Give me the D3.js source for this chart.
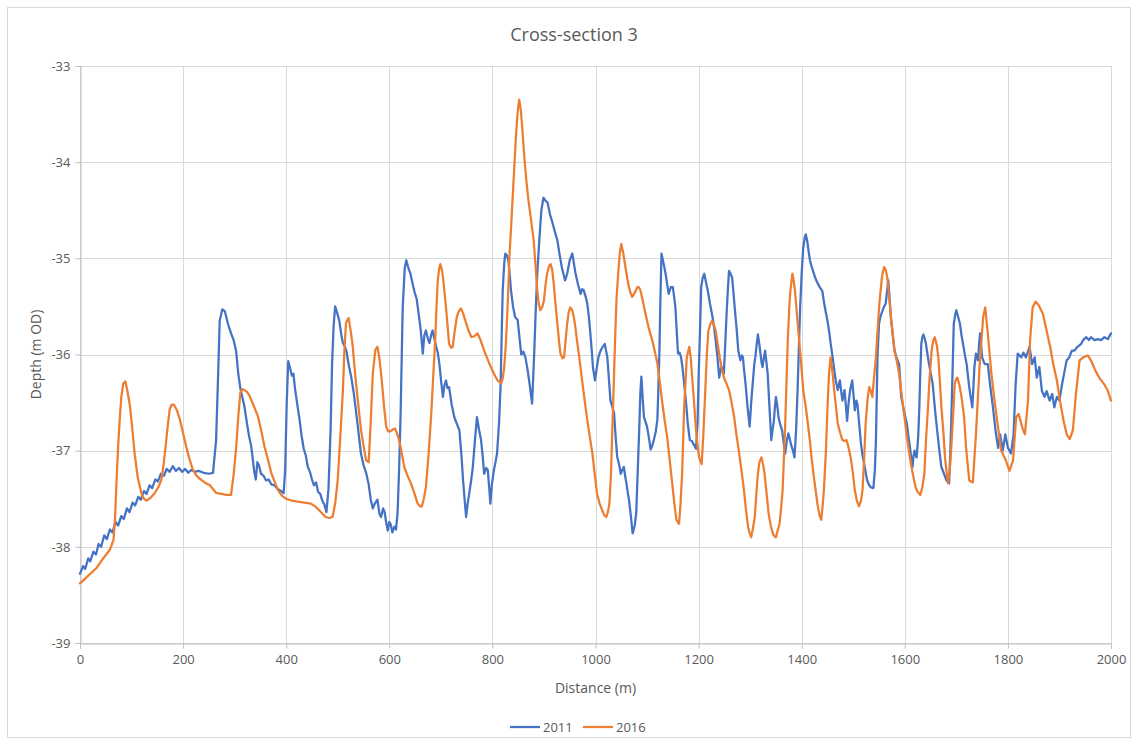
<!DOCTYPE html>
<html><head><meta charset="utf-8">
<script src="https://cdn.jsdelivr.net/npm/d3@7"></script>
<style>body{margin:0;background:#fff;} text{font-family:"Open Sans",sans-serif;}</style>
</head><body>
<svg id="chart" width="1136" height="742"></svg>
<script>
const chartTitle = "Cross-section 3";
const xTitle = "Distance (m)";
const yTitle = "Depth (m OD)";
const seriesNames = ["2011", "2016"];
const seriesColors = ["#4472C4", "#ED7D31"];
const xTicks = [0, 200, 400, 600, 800, 1000, 1200, 1400, 1600, 1800, 2000];
const yTicks = [-39, -38, -37, -36, -35, -34, -33];

const distance2011 = [0,6,10,16,20,26,31,36,41,47,52,58,63,69,74,80,85,91,96,102,107,113,118,124,129,135,140,146,151,157,163,168,174,180,186,192,198,204,210,216,222,230,240,250,258,264,268,271,276,281,287,293,298,303,307,311,319,324,328,332,335,338,341,344,347,351,356,361,366,371,377,384,390,395,398,401,404,408,411,414,417,421,426,430,434,438,442,446,450,454,458,462,466,470,474,478,482,486,489,492,495,499,503,507,510,514,517,521,526,531,535,540,545,550,555,560,564,568,572,577,581,584,588,591,594,597,600,603,606,610,613,616,619,622,626,630,633,637,641,645,649,653,657,661,665,668,671,675,678,681,684,688,691,694,697,701,704,707,710,713,716,721,726,731,736,740,743,746,749,752,755,759,762,766,770,774,778,781,784,788,791,794,796,799,803,806,809,813,816,818,820,823,825,828,831,834,836,840,844,849,853,856,860,864,868,872,877,881,884,887,891,895,899,903,907,912,916,921,926,930,935,941,945,950,955,958,961,966,971,974,977,981,984,987,990,993,995,999,1003,1006,1010,1014,1018,1023,1026,1029,1033,1036,1039,1042,1046,1049,1052,1055,1058,1060,1063,1065,1069,1072,1076,1079,1082,1085,1087,1089,1092,1094,1097,1100,1104,1107,1110,1113,1117,1120,1122,1124,1126,1128,1132,1136,1139,1142,1146,1150,1153,1155,1158,1160,1163,1166,1169,1172,1176,1179,1183,1187,1190,1193,1195,1198,1200,1203,1205,1208,1211,1214,1218,1222,1227,1230,1233,1237,1240,1243,1245,1249,1252,1254,1257,1259,1262,1265,1268,1270,1274,1277,1281,1284,1286,1288,1291,1295,1299,1302,1305,1308,1310,1313,1315,1318,1320,1322,1324,1327,1329,1332,1334,1337,1341,1343,1346,1348,1350,1353,1355,1358,1362,1365,1368,1371,1374,1377,1379,1383,1386,1389,1392,1395,1397,1400,1403,1406,1408,1411,1414,1416,1419,1422,1426,1430,1435,1440,1443,1446,1450,1453,1456,1459,1463,1466,1470,1474,1477,1479,1481,1483,1486,1488,1491,1494,1498,1501,1503,1506,1508,1511,1515,1518,1521,1524,1527,1531,1534,1539,1542,1544,1547,1550,1553,1557,1560,1563,1566,1568,1571,1573,1577,1580,1585,1589,1593,1597,1601,1604,1607,1610,1613,1615,1617,1619,1621,1623,1626,1628,1630,1632,1634,1636,1639,1641,1644,1647,1651,1654,1657,1660,1664,1667,1671,1676,1681,1686,1688,1690,1693,1695,1698,1700,1703,1707,1710,1713,1717,1720,1722,1725,1728,1731,1733,1735,1738,1742,1744,1746,1750,1755,1761,1766,1771,1776,1781,1785,1790,1795,1800,1806,1811,1815,1819,1826,1830,1835,1842,1847,1852,1856,1861,1866,1871,1875,1881,1886,1890,1895,1900,1905,1910,1914,1919,1924,1929,1935,1942,1946,1952,1957,1961,1968,1974,1981,1987,1994,2000];
const depth2011 = [-38.28,-38.20,-38.23,-38.12,-38.15,-38.05,-38.08,-37.97,-38.00,-37.88,-37.92,-37.82,-37.85,-37.74,-37.78,-37.68,-37.71,-37.60,-37.64,-37.54,-37.57,-37.48,-37.51,-37.42,-37.45,-37.36,-37.39,-37.30,-37.32,-37.24,-37.26,-37.19,-37.22,-37.16,-37.21,-37.18,-37.22,-37.19,-37.23,-37.20,-37.22,-37.21,-37.23,-37.24,-37.23,-36.89,-36.20,-35.65,-35.53,-35.55,-35.68,-35.78,-35.85,-35.97,-36.20,-36.35,-36.54,-36.72,-36.85,-36.95,-37.08,-37.22,-37.30,-37.12,-37.15,-37.24,-37.26,-37.31,-37.30,-37.35,-37.36,-37.40,-37.42,-37.44,-37.20,-36.50,-36.07,-36.15,-36.22,-36.20,-36.35,-36.50,-36.68,-36.85,-36.98,-37.05,-37.17,-37.22,-37.30,-37.36,-37.33,-37.43,-37.45,-37.52,-37.56,-37.64,-37.40,-36.80,-36.10,-35.70,-35.50,-35.57,-35.65,-35.80,-35.88,-35.92,-35.97,-36.10,-36.23,-36.40,-36.57,-36.80,-37.03,-37.15,-37.23,-37.35,-37.51,-37.60,-37.55,-37.51,-37.66,-37.69,-37.60,-37.64,-37.75,-37.83,-37.74,-37.77,-37.85,-37.79,-37.82,-37.65,-37.20,-36.60,-35.51,-35.10,-35.02,-35.10,-35.16,-35.26,-35.35,-35.42,-35.58,-35.75,-35.99,-35.80,-35.75,-35.84,-35.88,-35.80,-35.75,-35.85,-35.92,-35.98,-36.09,-36.30,-36.44,-36.32,-36.27,-36.35,-36.34,-36.52,-36.65,-36.72,-36.79,-37.05,-37.30,-37.50,-37.69,-37.55,-37.45,-37.30,-37.17,-36.90,-36.65,-36.78,-36.89,-37.05,-37.24,-37.18,-37.20,-37.40,-37.55,-37.35,-37.20,-37.12,-37.03,-36.70,-36.30,-35.80,-35.33,-35.05,-34.95,-34.97,-35.02,-35.20,-35.33,-35.50,-35.61,-35.64,-35.85,-36.00,-35.97,-36.03,-36.15,-36.30,-36.51,-36.00,-35.55,-35.16,-34.81,-34.50,-34.37,-34.40,-34.42,-34.55,-34.62,-34.72,-34.81,-34.95,-35.10,-35.23,-35.16,-35.02,-34.95,-35.05,-35.15,-35.27,-35.37,-35.32,-35.33,-35.40,-35.47,-35.60,-35.78,-35.98,-36.13,-36.27,-36.12,-36.02,-35.96,-35.92,-35.89,-36.03,-36.25,-36.48,-36.55,-36.61,-36.85,-37.06,-37.15,-37.24,-37.20,-37.17,-37.28,-37.34,-37.45,-37.51,-37.70,-37.86,-37.78,-37.65,-37.20,-36.75,-36.40,-36.23,-36.50,-36.65,-36.70,-36.75,-36.88,-36.99,-36.95,-36.89,-36.80,-36.68,-36.35,-35.96,-35.40,-34.95,-35.05,-35.16,-35.27,-35.37,-35.30,-35.30,-35.42,-35.51,-35.80,-35.99,-35.98,-36.03,-36.15,-36.30,-36.52,-36.72,-36.89,-36.90,-36.93,-36.96,-36.98,-36.70,-36.24,-35.70,-35.30,-35.20,-35.16,-35.24,-35.34,-35.47,-35.61,-35.72,-35.85,-36.05,-36.24,-36.15,-36.13,-36.20,-35.85,-35.61,-35.30,-35.13,-35.16,-35.20,-35.38,-35.51,-35.75,-35.96,-36.06,-36.01,-36.03,-36.15,-36.30,-36.55,-36.75,-36.50,-36.30,-36.10,-36.03,-35.88,-35.79,-35.90,-35.99,-36.08,-36.13,-36.02,-35.96,-36.10,-36.20,-36.50,-36.89,-36.80,-36.69,-36.55,-36.44,-36.55,-36.65,-36.72,-36.79,-36.92,-37.03,-36.90,-36.82,-36.88,-36.93,-37.00,-37.07,-36.80,-36.37,-35.85,-35.51,-35.15,-34.89,-34.78,-34.75,-34.83,-34.95,-35.02,-35.08,-35.13,-35.20,-35.25,-35.30,-35.34,-35.45,-35.54,-35.65,-35.75,-35.88,-35.99,-36.15,-36.27,-36.37,-36.27,-36.40,-36.48,-36.42,-36.37,-36.55,-36.69,-36.50,-36.37,-36.27,-36.45,-36.58,-36.48,-36.51,-36.69,-36.93,-37.05,-37.13,-37.22,-37.31,-37.36,-37.38,-37.39,-37.20,-36.89,-36.03,-35.68,-35.60,-35.54,-35.50,-35.47,-35.32,-35.23,-35.45,-35.61,-35.82,-35.96,-36.05,-36.10,-36.44,-36.55,-36.65,-36.72,-36.85,-36.96,-37.10,-37.17,-37.05,-37.00,-37.05,-37.07,-36.85,-36.58,-36.20,-35.89,-35.82,-35.79,-35.84,-35.89,-36.00,-36.10,-36.22,-36.30,-36.48,-36.65,-36.85,-37.00,-37.17,-37.24,-37.31,-37.34,-37.05,-36.72,-36.10,-35.68,-35.58,-35.54,-35.60,-35.68,-35.80,-35.89,-36.02,-36.10,-36.20,-36.34,-36.45,-36.55,-36.35,-36.13,-35.99,-36.06,-35.90,-35.78,-36.03,-36.10,-36.10,-36.34,-36.55,-36.79,-36.97,-36.83,-37.00,-36.83,-36.97,-37.03,-36.83,-36.31,-35.99,-36.03,-35.98,-36.03,-35.92,-36.10,-36.03,-36.24,-36.13,-36.38,-36.44,-36.38,-36.48,-36.41,-36.55,-36.44,-36.48,-36.31,-36.17,-36.06,-36.03,-35.96,-35.96,-35.92,-35.89,-35.85,-35.82,-35.85,-35.82,-35.85,-35.84,-35.85,-35.82,-35.84,-35.78];

const distance2016 = [0,10,20,32,45,58,65,68,71,74,77,80,84,88,92,97,101,106,112,119,124,129,137,145,152,158,162,166,170,174,178,182,188,194,200,206,212,219,226,232,242,252,258,264,274,284,293,298,303,307,311,315,319,324,328,336,345,352,358,365,371,378,384,392,400,411,422,435,448,456,464,471,477,484,490,495,500,505,510,513,516,521,525,529,532,536,541,545,550,555,560,564,568,573,577,581,585,590,594,598,602,607,611,615,619,624,629,636,642,649,655,660,663,667,671,676,681,685,689,692,694,697,699,702,704,707,710,713,716,720,723,727,731,735,739,743,747,753,759,765,771,777,784,790,797,803,810,817,820,823,826,828,831,833,837,842,846,849,852,855,858,862,866,870,875,880,884,887,890,893,897,900,903,906,910,913,916,919,922,926,929,932,936,939,942,945,948,951,955,958,961,964,969,974,979,984,989,994,998,1003,1008,1013,1017,1021,1024,1027,1030,1032,1036,1039,1041,1044,1047,1050,1054,1058,1062,1065,1068,1071,1076,1081,1084,1087,1092,1097,1103,1110,1115,1120,1125,1129,1134,1139,1144,1149,1153,1157,1162,1165,1168,1170,1172,1175,1177,1182,1185,1187,1191,1194,1198,1201,1206,1209,1213,1216,1219,1223,1226,1230,1233,1237,1241,1245,1249,1254,1259,1264,1269,1273,1278,1283,1288,1292,1296,1299,1302,1305,1309,1312,1315,1318,1322,1325,1328,1332,1336,1340,1344,1347,1350,1354,1357,1360,1363,1366,1368,1371,1373,1376,1378,1382,1385,1387,1391,1395,1399,1403,1408,1412,1416,1419,1423,1427,1431,1435,1438,1441,1443,1447,1450,1453,1456,1460,1463,1467,1470,1475,1479,1483,1487,1491,1495,1499,1503,1507,1511,1515,1518,1521,1524,1528,1531,1534,1537,1541,1544,1548,1551,1553,1556,1560,1563,1566,1570,1573,1577,1580,1585,1589,1593,1597,1601,1605,1609,1613,1617,1621,1625,1630,1634,1638,1641,1645,1648,1652,1655,1658,1662,1665,1668,1671,1675,1678,1681,1684,1688,1691,1694,1697,1700,1702,1706,1710,1715,1719,1725,1732,1738,1745,1752,1756,1761,1768,1774,1781,1787,1796,1803,1810,1816,1821,1828,1833,1839,1843,1848,1854,1860,1868,1875,1882,1888,1895,1901,1908,1914,1920,1926,1932,1939,1946,1955,1961,1970,1977,1987,1994,2000];
const depth2016 = [-38.38,-38.33,-38.28,-38.22,-38.12,-38.03,-37.93,-37.70,-37.30,-36.95,-36.68,-36.45,-36.30,-36.28,-36.38,-36.54,-36.75,-37.03,-37.28,-37.44,-37.50,-37.52,-37.49,-37.44,-37.38,-37.30,-37.15,-36.96,-36.75,-36.57,-36.52,-36.52,-36.58,-36.68,-36.82,-36.96,-37.08,-37.20,-37.26,-37.29,-37.33,-37.36,-37.40,-37.44,-37.45,-37.46,-37.46,-37.25,-36.96,-36.65,-36.40,-36.36,-36.37,-36.39,-36.42,-36.52,-36.64,-36.80,-36.96,-37.10,-37.23,-37.33,-37.41,-37.47,-37.50,-37.52,-37.53,-37.54,-37.55,-37.58,-37.62,-37.66,-37.69,-37.70,-37.69,-37.55,-37.30,-36.85,-36.37,-35.95,-35.67,-35.62,-35.75,-35.91,-36.10,-36.33,-36.58,-36.78,-36.95,-37.10,-37.12,-36.70,-36.20,-35.95,-35.92,-36.05,-36.25,-36.55,-36.75,-36.80,-36.80,-36.78,-36.77,-36.82,-36.89,-37.02,-37.17,-37.27,-37.34,-37.45,-37.55,-37.58,-37.58,-37.50,-37.38,-37.05,-36.65,-36.25,-35.85,-35.45,-35.23,-35.10,-35.06,-35.12,-35.19,-35.35,-35.51,-35.70,-35.89,-35.93,-35.92,-35.75,-35.61,-35.55,-35.52,-35.57,-35.64,-35.74,-35.82,-35.81,-35.78,-35.85,-35.96,-36.04,-36.13,-36.20,-36.27,-36.30,-36.25,-36.13,-35.90,-35.68,-35.30,-34.99,-34.60,-34.10,-33.70,-33.48,-33.35,-33.45,-33.65,-33.95,-34.20,-34.40,-34.60,-34.81,-35.10,-35.33,-35.48,-35.54,-35.50,-35.44,-35.28,-35.16,-35.08,-35.06,-35.12,-35.26,-35.45,-35.68,-35.85,-35.99,-36.04,-36.03,-35.85,-35.68,-35.56,-35.51,-35.54,-35.61,-35.72,-35.85,-36.05,-36.27,-36.48,-36.68,-36.86,-37.03,-37.22,-37.45,-37.55,-37.62,-37.67,-37.69,-37.64,-37.55,-37.25,-36.89,-36.20,-35.68,-35.40,-35.16,-34.95,-34.85,-34.95,-35.09,-35.22,-35.30,-35.36,-35.40,-35.36,-35.30,-35.30,-35.33,-35.45,-35.58,-35.72,-35.85,-35.97,-36.09,-36.30,-36.48,-36.68,-36.86,-37.10,-37.35,-37.55,-37.72,-37.76,-37.55,-37.24,-36.90,-36.55,-36.25,-36.03,-35.92,-36.05,-36.20,-36.48,-36.72,-36.95,-37.07,-37.14,-36.85,-36.37,-36.00,-35.75,-35.68,-35.65,-35.70,-35.75,-35.89,-36.03,-36.15,-36.24,-36.30,-36.37,-36.50,-36.65,-36.82,-37.00,-37.20,-37.41,-37.62,-37.79,-37.86,-37.90,-37.82,-37.69,-37.45,-37.24,-37.12,-37.07,-37.14,-37.24,-37.45,-37.66,-37.78,-37.86,-37.89,-37.90,-37.82,-37.76,-37.60,-37.41,-37.00,-36.72,-36.20,-35.85,-35.50,-35.34,-35.16,-35.25,-35.34,-35.60,-35.85,-36.10,-36.37,-36.55,-36.72,-36.90,-37.07,-37.25,-37.41,-37.57,-37.68,-37.72,-37.55,-37.41,-37.00,-36.55,-36.20,-36.03,-36.20,-36.37,-36.57,-36.72,-36.82,-36.89,-36.90,-36.89,-36.97,-37.07,-37.22,-37.41,-37.52,-37.58,-37.52,-37.41,-37.10,-36.72,-36.45,-36.34,-36.38,-36.44,-36.20,-36.03,-35.68,-35.45,-35.34,-35.18,-35.09,-35.12,-35.20,-35.42,-35.61,-35.80,-35.96,-36.08,-36.20,-36.38,-36.55,-36.72,-36.89,-37.04,-37.17,-37.28,-37.38,-37.43,-37.46,-37.38,-37.24,-36.90,-36.55,-36.25,-35.96,-35.86,-35.82,-35.90,-36.03,-36.28,-36.55,-36.82,-37.07,-37.22,-37.34,-37.15,-36.89,-36.60,-36.30,-36.25,-36.24,-36.32,-36.44,-36.65,-36.98,-37.31,-37.33,-36.83,-36.13,-35.61,-35.51,-35.78,-36.20,-36.48,-36.76,-37.00,-37.10,-37.21,-37.10,-36.65,-36.62,-36.76,-36.83,-36.48,-35.85,-35.51,-35.45,-35.49,-35.58,-35.75,-35.92,-36.10,-36.27,-36.48,-36.69,-36.83,-36.88,-36.79,-36.41,-36.06,-36.03,-36.01,-36.06,-36.17,-36.24,-36.31,-36.38,-36.48];

const svg = d3.select("#chart");
const W = 1136, H = 742;
const plot = {left: 80, right: 1111, top: 66, bottom: 643};
const x = d3.scaleLinear().domain([0, 2000]).range([plot.left, plot.right]);
const y = d3.scaleLinear().domain([-39, -33]).range([plot.bottom, plot.top]);
const textColor = "#595959";

svg.append("rect").attr("x", 0).attr("y", 0).attr("width", W).attr("height", H).attr("fill", "#fff");
svg.append("rect").attr("x", 7.5).attr("y", 7.5).attr("width", 1123).attr("height", 730)
  .attr("fill", "none").attr("stroke", "#d9d9d9").attr("stroke-width", 1);

// gridlines
const grid = svg.append("g");
grid.selectAll("line.h").data(yTicks).join("line")
  .attr("x1", plot.left).attr("x2", plot.right)
  .attr("y1", d => Math.round(y(d)) + 0.5).attr("y2", d => Math.round(y(d)) + 0.5)
  .attr("stroke", "#d9d9d9").attr("stroke-width", 1);
grid.selectAll("line.v").data(xTicks).join("line")
  .attr("y1", plot.top).attr("y2", plot.bottom)
  .attr("x1", d => Math.round(x(d)) + 0.5).attr("x2", d => Math.round(x(d)) + 0.5)
  .attr("stroke", "#d9d9d9").attr("stroke-width", 1);

// axes
const xAxis = svg.append("g").attr("transform", `translate(0,${Math.round(y(-39)) + 0.5})`)
  .call(d3.axisBottom(x).tickValues(xTicks).tickSize(5).tickPadding(6).tickFormat(d3.format("d")));
const yAxis = svg.append("g").attr("transform", `translate(${Math.round(x(0)) + 0.5},0)`)
  .call(d3.axisLeft(y).tickValues(yTicks).tickSize(5).tickPadding(5).tickFormat(d => d3.format("d")(d)));
[xAxis, yAxis].forEach(a => {
  a.select(".domain").attr("stroke", "#bfbfbf").attr("stroke-width", 1);
  a.selectAll(".tick line").attr("stroke", "#bfbfbf");
  a.selectAll(".tick text").attr("fill", textColor).style("font-size", "13px").style("font-family", "'Open Sans', sans-serif");
});
yAxis.selectAll(".tick text").text(d => "-" + Math.abs(d));

// series
const line = d3.line().x(d => x(d[0])).y(d => y(d[1]));
const data2011 = distance2011.map((d, i) => [d, depth2011[i]]);
const data2016 = distance2016.map((d, i) => [d, depth2016[i]]);
[data2011, data2016].forEach((ds, i) => {
  svg.append("path").datum(ds).attr("d", line)
    .attr("fill", "none").attr("stroke", seriesColors[i]).attr("stroke-width", 2.25)
    .attr("stroke-linejoin", "round").attr("stroke-linecap", "round");
});

// titles
svg.append("text").attr("x", 574).attr("y", 41).attr("text-anchor", "middle")
  .attr("fill", textColor).style("font-size", "18px").text(chartTitle);
svg.append("text").attr("x", (plot.left + plot.right) / 2).attr("y", 693).attr("text-anchor", "middle")
  .attr("fill", textColor).style("font-size", "14px").text(xTitle);
svg.append("text").attr("transform", `translate(41,${(plot.top + plot.bottom) / 2}) rotate(-90)`)
  .attr("text-anchor", "middle").attr("fill", textColor).style("font-size", "14px").text(yTitle);

// legend
const legendX = [510, 583];
seriesNames.forEach((name, i) => {
  const g = svg.append("g").attr("transform", `translate(${legendX[i]},727)`);
  g.append("line").attr("x1", 0).attr("x2", 30).attr("y1", 0).attr("y2", 0)
    .attr("stroke", seriesColors[i]).attr("stroke-width", 2.25);
  g.append("text").attr("x", 33).attr("y", 4.5).attr("fill", textColor).style("font-size", "13px").text(name);
});
</script>
</body></html>
